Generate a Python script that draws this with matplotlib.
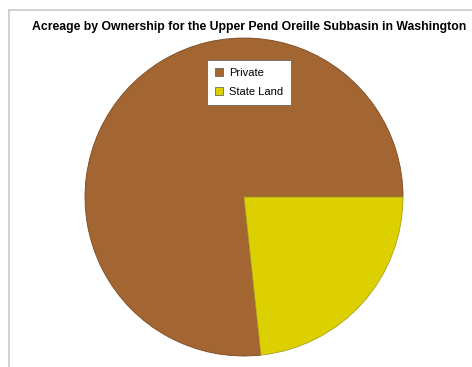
import matplotlib.pyplot as plt
from matplotlib.lines import Line2D
from matplotlib.patches import Patch

# Acreage share by ownership
labels = ["Private", "State Land"]
shares = [76.7, 23.3]
colors = ["#A36532", "#DCD000"]
edges = ["#7A4A22", "#A8A020"]

W, H = 472, 367
fig = plt.figure(figsize=(W / 100, H / 100), dpi=100)

# light chart-area frame (top and left edges visible)
fig.add_artist(Line2D([9 / W, 9 / W], [0, 1 - 10 / H], color="#c8c8c8", lw=1.2))
fig.add_artist(Line2D([9 / W, 1], [1 - 10 / H, 1 - 10 / H], color="#c8c8c8", lw=1.2))

cx, cy, r = 244, 197, 159
ax = fig.add_axes([(cx - r) / W, (H - cy - r) / H, 2 * r / W, 2 * r / H])
wedges, _ = ax.pie(shares, colors=colors, startangle=0, counterclock=True,
                   radius=1, wedgeprops=dict(linewidth=0.6))
for w, ec in zip(wedges, edges):
    w.set_edgecolor(ec)
ax.set_xlim(-1, 1)
ax.set_ylim(-1, 1)
ax.set_aspect("auto")
ax.axis("off")

fig.text(249.5 / W, 1 - 27 / H,
         "Acreage by Ownership for the Upper Pend Oreille Subbasin in Washington",
         ha="center", va="center", fontsize=8.8, fontweight="heavy",
         family="Liberation Sans")

handles = [Patch(facecolor=c, edgecolor="#555555", linewidth=0.5) for c in colors]
leg = fig.legend(handles, labels, loc="upper left",
                 bbox_to_anchor=(207 / W, 1 - 60 / H),
                 prop={"family": "Liberation Sans", "size": 8},
                 frameon=True, fancybox=False, framealpha=1,
                 handlelength=0.75, handleheight=0.75,
                 handletextpad=0.5, borderpad=0.7, labelspacing=0.85, borderaxespad=0)
leg.get_frame().set_edgecolor("#666666")
leg.get_frame().set_facecolor("white")
leg.get_frame().set_linewidth(0.6)

fig.savefig("out.png", dpi=100)
